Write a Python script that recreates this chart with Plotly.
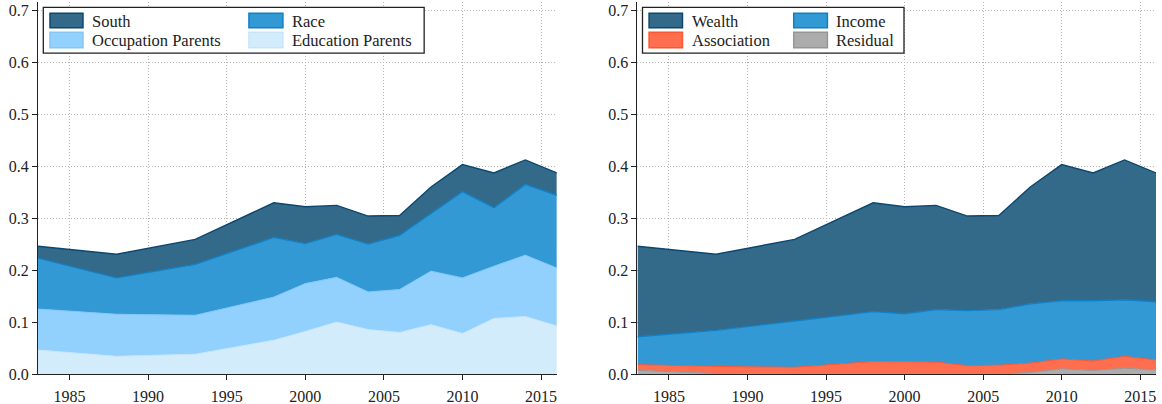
import plotly.graph_objects as go
from plotly.subplots import make_subplots

# ---------------- data ----------------
years = [1983, 1988, 1993, 1998, 2000, 2002, 2004, 2006, 2008, 2010, 2012, 2014, 2016]

# Left panel (stacked bottom -> top)
education_parents = [0.046, 0.034, 0.038, 0.065, 0.082, 0.100, 0.0855, 0.080, 0.095, 0.078, 0.107, 0.1105, 0.0925]
occupation_parents = [0.079, 0.081, 0.075, 0.083, 0.092, 0.086, 0.0725, 0.0826, 0.103, 0.107, 0.1005, 0.1182, 0.1115]
race = [0.098, 0.070, 0.098, 0.115, 0.077, 0.0826, 0.092, 0.1044, 0.111, 0.166, 0.1125, 0.1363, 0.140]
south = [0.023, 0.0456, 0.048, 0.0665, 0.071, 0.0559, 0.054, 0.038, 0.051, 0.052, 0.067, 0.047, 0.043]

# Right panel (stacked bottom -> top)
residual = [0.007, 0.001, 0.0, 0.0, 0.0005, 0.0, 0.0, 0.0, 0.003, 0.010, 0.007, 0.011, 0.008]
association = [0.011, 0.0135, 0.013, 0.024, 0.023, 0.023, 0.016, 0.017, 0.018, 0.019, 0.018, 0.023, 0.019]
income = [0.0536, 0.0695, 0.089, 0.096, 0.0925, 0.101, 0.106, 0.107, 0.114, 0.112, 0.116, 0.109, 0.112]
wealth = [0.1744, 0.1466, 0.157, 0.2095, 0.206, 0.2005, 0.182, 0.181, 0.225, 0.262, 0.246, 0.269, 0.248]

left_labels = ["South", "Race", "Occupation Parents", "Education Parents"]
right_labels = ["Wealth", "Income", "Association", "Residual"]

x_ticks = [1985, 1990, 1995, 2000, 2005, 2010, 2015]
y_ticks = [0.0, 0.1, 0.2, 0.3, 0.4, 0.5, 0.6, 0.7]
y_tick_text = ["0.0", "0.1", "0.2", "0.3", "0.4", "0.5", "0.6", "0.7"]

# ---------------- styles ----------------
DARK = ("#346a89", "#0b4770")
BLUE = ("#3399d4", "#1080c8")
LIGHT = ("#92d0fe", "#84c6f6")
PALE = ("#d3ecfc", "#c8e5f8")
ORANGE = ("#ff6e4f", "#ff5632")
GRAY = ("#acacac", "#969696")

FONT = "Liberation Serif"
W, H = 1162, 404
L, R, T, B = 38, 5.6, 2, 30.3
PW, PH = W - L - R, H - T - B

def pxx(x):
    return (x - L) / PW

def pxy(y):
    return (H - B - y) / PH

fig = make_subplots(rows=1, cols=2, horizontal_spacing=0.0721)

left_series = [(education_parents, "Education Parents", PALE),
               (occupation_parents, "Occupation Parents", LIGHT),
               (race, "Race", BLUE),
               (south, "South", DARK)]
right_series = [(residual, "Residual", GRAY),
                (association, "Association", ORANGE),
                (income, "Income", BLUE),
                (wealth, "Wealth", DARK)]

for vals, name, (fc, lc) in left_series:
    fig.add_trace(go.Scatter(x=years, y=vals, name=name, stackgroup="L", mode="lines",
                             fillcolor=fc, line=dict(color=lc, width=1.4 if lc in (DARK[1], BLUE[1]) else 1.0),
                             showlegend=False), row=1, col=1)
for vals, name, (fc, lc) in right_series:
    fig.add_trace(go.Scatter(x=years, y=vals, name=name, stackgroup="R", mode="lines",
                             fillcolor=fc, line=dict(color=lc, width=1.4 if lc in (DARK[1], BLUE[1]) else 1.0),
                             showlegend=False), row=1, col=2)

tickfont = dict(family=FONT, size=16, color="#222222")
axis_common = dict(showline=True, linecolor="#222222", linewidth=1.3, ticks="outside", ticklen=5,
                   tickcolor="#222222", tickwidth=1.2, showgrid=True, gridcolor="#b5b5b5",
                   gridwidth=1, griddash="1px,2px", zeroline=False, tickfont=tickfont)

for c in (1, 2):
    fig.update_xaxes(range=[1983, 2016], tickmode="array", tickvals=x_ticks,
                     ticktext=[str(v) for v in x_ticks], ticklabelstandoff=3,
                     row=1, col=c, **axis_common)
    fig.update_yaxes(range=[0, 0.716], tickmode="array", tickvals=y_ticks, ticktext=y_tick_text,
                     row=1, col=c, **axis_common)

fig.update_xaxes(domain=[0, pxx(557)], row=1, col=1)
fig.update_xaxes(domain=[pxx(637.7), 1], row=1, col=2)

# ---------------- legends (drawn as boxes + text) ----------------
shapes = []
annotations = []

def add_legend(box, entries, sw_cols, txt_cols):
    bx0, bx1, by0, by1 = box
    shapes.append(dict(type="rect", xref="paper", yref="paper", layer="above",
                       x0=pxx(bx0), x1=pxx(bx1), y0=pxy(by1), y1=pxy(by0),
                       line=dict(color="#222222", width=1.3), fillcolor="white"))
    rows = [(13.3, 27.7), (32.3, 47.7)]
    for i, (label, (fc, lc)) in enumerate(entries):
        r, c = divmod(i, 2)
        sx0, sx1 = sw_cols[c]
        sy0, sy1 = rows[r]
        shapes.append(dict(type="rect", xref="paper", yref="paper", layer="above",
                           x0=pxx(sx0), x1=pxx(sx1), y0=pxy(sy1), y1=pxy(sy0),
                           line=dict(color=lc, width=1.5), fillcolor=fc))
        annotations.append(dict(x=pxx(txt_cols[c] - 2), y=pxy((sy0 + sy1) / 2 + 0.5), xref="paper", yref="paper",
                                text=label, showarrow=False, xanchor="left", yanchor="middle",
                                font=dict(family=FONT, size=16.5, color="#222222")))

add_legend((43.3, 424.3, 7.3, 53.0),
           list(zip(left_labels, [DARK, BLUE, LIGHT, PALE])),
           [(50, 83), (249, 283)], [92, 292])
add_legend((642.7, 904.3, 7.3, 53.0),
           list(zip(right_labels, [DARK, BLUE, ORANGE, GRAY])),
           [(649.3, 682.7), (794, 827.7)], [692.3, 836.7])

fig.update_layout(width=W, height=H, margin=dict(l=L, r=R, t=T, b=B, autoexpand=False),
                  paper_bgcolor="white", plot_bgcolor="white",
                  shapes=shapes, annotations=annotations, showlegend=False,
                  font=dict(family=FONT, size=16, color="#222222"))

fig.write_html("out.html", config={"displayModeBar": False},
               post_script="document.body.style.margin='0';document.body.style.padding='0';")
